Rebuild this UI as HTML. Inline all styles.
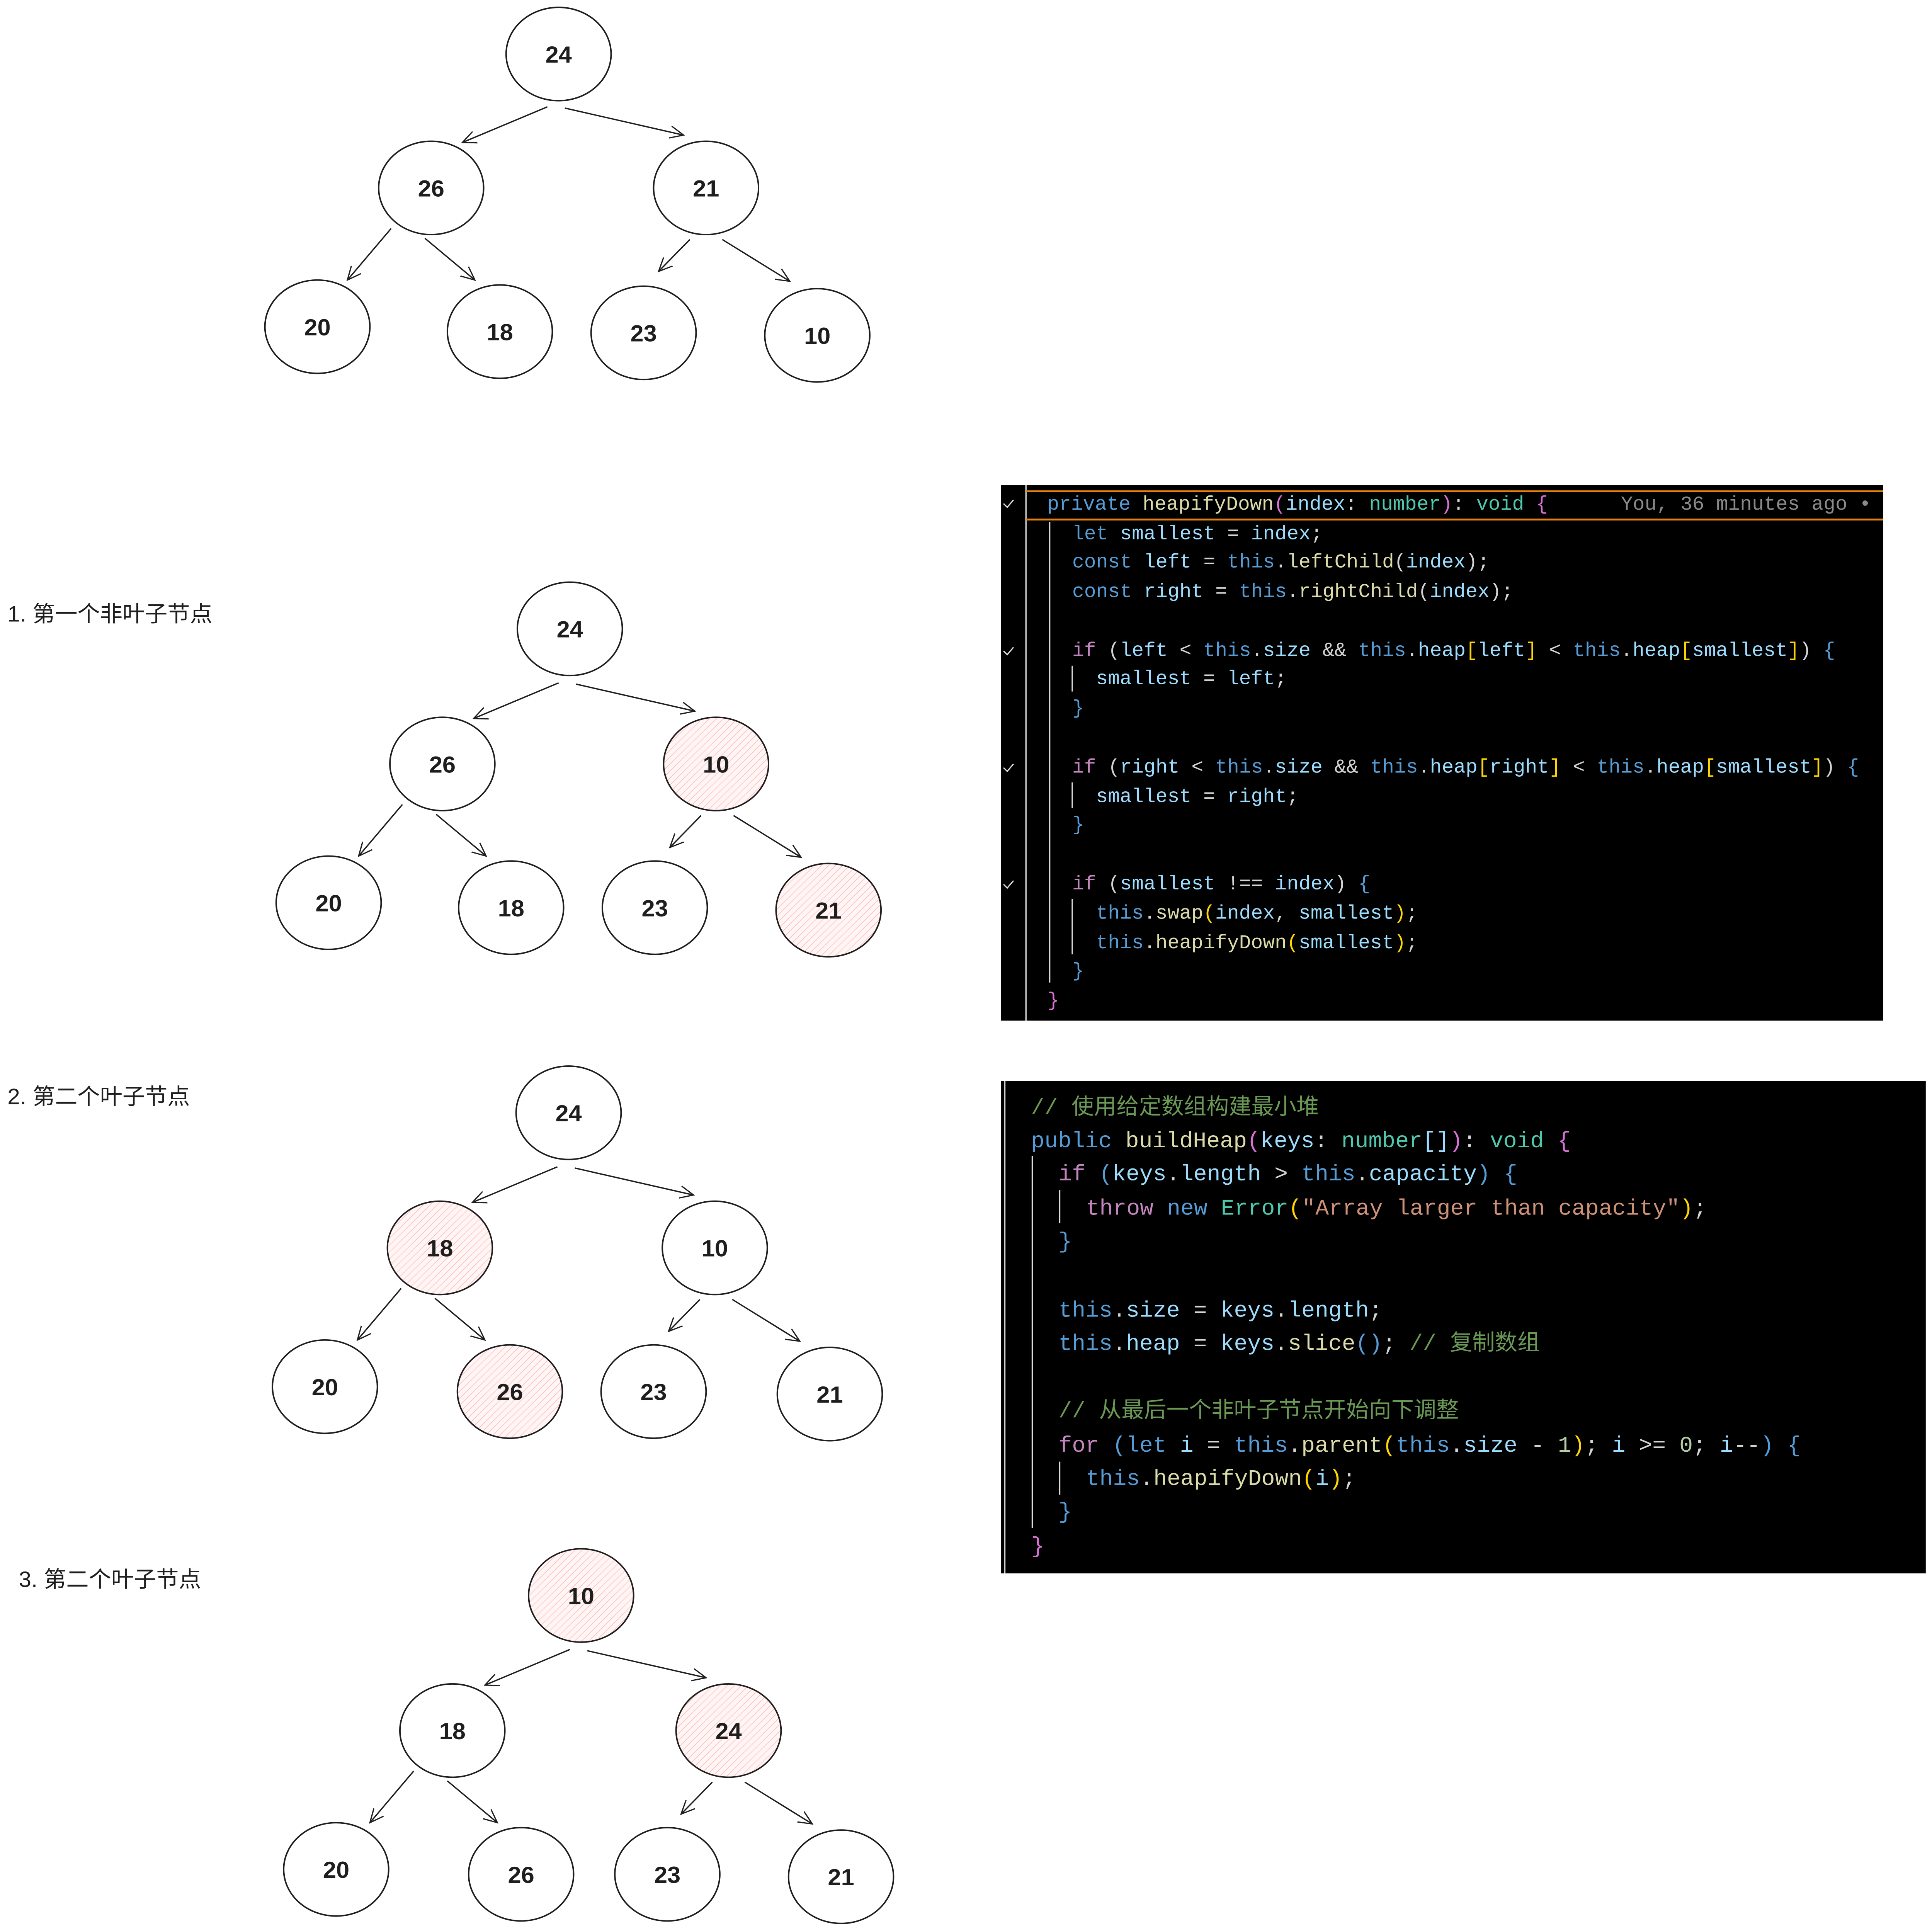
<!DOCTYPE html>
<html><head><meta charset="utf-8">
<style>
html,body{margin:0;padding:0;background:#fff;overflow:hidden;}
svg{display:block;width:100vw;height:100vh;}
.n{font-family:"Liberation Sans",sans-serif;font-size:19px;fill:#1e1e1e;text-anchor:middle;font-weight:bold;}
.lbl{font-family:"Liberation Sans","Noto Sans CJK SC",sans-serif;font-size:18px;fill:#1e1e1e;}
.c1{font-family:"Liberation Mono","Noto Sans CJK SC",monospace;font-size:15.9px;fill:#d4d4d4;}
.c2{font-family:"Liberation Mono","Noto Sans CJK SC",monospace;font-size:18px;fill:#d4d4d4;}
.k{fill:#569cd6}.f{fill:#dcdcaa}.v{fill:#9cdcfe}.t{fill:#4ec9b0}.p{fill:#da70d6}.i{fill:#c586c0}.s{fill:#ce9178}.cm{fill:#6a9955}.y{fill:#ffd700}.g{fill:#8a8a8a}.nm{fill:#b5cea8}
.e{stroke:#1e1e1e;stroke-width:1.2;fill:#fff}
.ar{stroke:#1e1e1e;stroke-width:1.1;fill:none}
</style></head><body>
<svg viewBox="0 0 1546 1573" preserveAspectRatio="none" xmlns="http://www.w3.org/2000/svg" xml:space="preserve">
<defs>
<pattern id="h" width="4" height="4" patternUnits="userSpaceOnUse" patternTransform="rotate(45)">
<rect width="4" height="4" fill="#fff5f5"/><line x1="0" y1="0" x2="0" y2="4" stroke="#ffb3b3" stroke-width="0.8"/>
</pattern>
<marker id="a" viewBox="0 0 12 12" refX="11" refY="6" markerWidth="12" markerHeight="12" markerUnits="userSpaceOnUse" orient="auto">
<path d="M0,1 L11,6 L0,11" fill="none" stroke="#1e1e1e" stroke-width="1"/>
</marker>
</defs>

<g>
<ellipse class="e" cx="447" cy="44" rx="42" ry="38"/>
<ellipse class="e" cx="345" cy="153" rx="42" ry="38"/>
<ellipse class="e" cx="565" cy="153" rx="42" ry="38"/>
<ellipse class="e" cx="254" cy="266" rx="42" ry="38"/>
<ellipse class="e" cx="400" cy="270" rx="42" ry="38"/>
<ellipse class="e" cx="515" cy="271" rx="42" ry="38"/>
<ellipse class="e" cx="654" cy="273" rx="42" ry="38"/>
<g class="ar" marker-end="url(#a)">
<line x1="438" y1="87" x2="370" y2="116"/><line x1="452" y1="88" x2="547" y2="110"/>
<line x1="313" y1="186" x2="278" y2="228"/><line x1="340" y1="194" x2="380" y2="228"/>
<line x1="552" y1="195" x2="527" y2="221"/><line x1="578" y1="195" x2="632" y2="229"/>
</g>
<text x="447" y="51" class="n">24</text><text x="345" y="160" class="n">26</text><text x="565" y="160" class="n">21</text>
<text x="254" y="273" class="n">20</text><text x="400" y="277" class="n">18</text><text x="515" y="278" class="n">23</text><text x="654" y="280" class="n">10</text>
</g>

<g transform="translate(2,2)">
<ellipse class="e" cx="454" cy="510" rx="42" ry="38"/>
<ellipse class="e" cx="352" cy="620" rx="42" ry="38"/>
<ellipse class="e" cx="571" cy="620" rx="42" ry="38" style="fill:url(#h)"/>
<ellipse class="e" cx="261" cy="733" rx="42" ry="38"/>
<ellipse class="e" cx="407" cy="737" rx="42" ry="38"/>
<ellipse class="e" cx="522" cy="737" rx="42" ry="38"/>
<ellipse class="e" cx="661" cy="739" rx="42" ry="38" style="fill:url(#h)"/>
<g class="ar" marker-end="url(#a)">
<line x1="445" y1="554" x2="377" y2="583"/><line x1="459" y1="555" x2="554" y2="577"/>
<line x1="320" y1="653" x2="285" y2="695"/><line x1="347" y1="661" x2="387" y2="695"/>
<line x1="559" y1="662" x2="534" y2="688"/><line x1="585" y1="662" x2="639" y2="696"/>
</g>
<text x="454" y="517" class="n">24</text><text x="352" y="627" class="n">26</text><text x="571" y="627" class="n">10</text>
<text x="261" y="740" class="n">20</text><text x="407" y="744" class="n">18</text><text x="522" y="744" class="n">23</text><text x="661" y="746" class="n">21</text>
</g>

<g transform="translate(3,4)">
<ellipse class="e" cx="452" cy="902" rx="42" ry="38"/>
<ellipse class="e" cx="349" cy="1012" rx="42" ry="38" style="fill:url(#h)"/>
<ellipse class="e" cx="569" cy="1012" rx="42" ry="38"/>
<ellipse class="e" cx="257" cy="1125" rx="42" ry="38"/>
<ellipse class="e" cx="405" cy="1129" rx="42" ry="38" style="fill:url(#h)"/>
<ellipse class="e" cx="520" cy="1129" rx="42" ry="38"/>
<ellipse class="e" cx="661" cy="1131" rx="42" ry="38"/>
<g class="ar" marker-end="url(#a)">
<line x1="443" y1="946" x2="375" y2="975"/><line x1="457" y1="947" x2="552" y2="969"/>
<line x1="318" y1="1045" x2="283" y2="1087"/><line x1="345" y1="1053" x2="385" y2="1087"/>
<line x1="557" y1="1054" x2="532" y2="1080"/><line x1="583" y1="1054" x2="637" y2="1088"/>
</g>
<text x="452" y="909" class="n">24</text><text x="349" y="1019" class="n">18</text><text x="569" y="1019" class="n">10</text>
<text x="257" y="1132" class="n">20</text><text x="405" y="1136" class="n">26</text><text x="520" y="1136" class="n">23</text><text x="661" y="1138" class="n">21</text>
</g>

<g transform="translate(3,5)">
<ellipse class="e" cx="462" cy="1294" rx="42" ry="38" style="fill:url(#h)"/>
<ellipse class="e" cx="359" cy="1404" rx="42" ry="38"/>
<ellipse class="e" cx="580" cy="1404" rx="42" ry="38" style="fill:url(#h)"/>
<ellipse class="e" cx="266" cy="1517" rx="42" ry="38"/>
<ellipse class="e" cx="414" cy="1521" rx="42" ry="38"/>
<ellipse class="e" cx="531" cy="1521" rx="42" ry="38"/>
<ellipse class="e" cx="670" cy="1523" rx="42" ry="38"/>
<g class="ar" marker-end="url(#a)">
<line x1="453" y1="1338" x2="385" y2="1367"/><line x1="467" y1="1339" x2="562" y2="1361"/>
<line x1="328" y1="1437" x2="293" y2="1479"/><line x1="355" y1="1445" x2="395" y2="1479"/>
<line x1="567" y1="1446" x2="542" y2="1472"/><line x1="593" y1="1446" x2="647" y2="1480"/>
</g>
<text x="462" y="1301" class="n">10</text><text x="359" y="1411" class="n">18</text><text x="580" y="1411" class="n">24</text>
<text x="266" y="1524" class="n">20</text><text x="414" y="1528" class="n">26</text><text x="531" y="1528" class="n">23</text><text x="670" y="1530" class="n">21</text>
</g>

<text class="lbl" x="6" y="506">1. 第一个非叶子节点</text>
<text class="lbl" x="6" y="899">2. 第二个叶子节点</text>
<text class="lbl" x="15" y="1292">3. 第二个叶子节点</text>

<rect x="801" y="395" width="706" height="436" fill="#000"/>
<line x1="821" y1="395" x2="821" y2="831" stroke="#bbb" stroke-width="1.2"/>
<line x1="821" y1="400" x2="1507" y2="400" stroke="#e8800e" stroke-width="1.5"/>
<line x1="821" y1="423" x2="1507" y2="423" stroke="#e8800e" stroke-width="1.5"/>
<g stroke="#ddd" stroke-width="1" fill="none">
<path d="M803,410 l3,3 l5,-6"/><path d="M803,530 l3,3 l5,-6"/><path d="M803,625 l3,3 l5,-6"/><path d="M803,720 l3,3 l5,-6"/>
<line x1="840" y1="425" x2="840" y2="800"/>
<line x1="858" y1="542" x2="858" y2="563"/><line x1="858" y1="637" x2="858" y2="658"/><line x1="858" y1="732" x2="858" y2="777"/>
</g>
<g class="c1">
<text x="838" y="415"><tspan class="k">private</tspan> <tspan class="f">heapifyDown</tspan><tspan class="p">(</tspan><tspan class="v">index</tspan>: <tspan class="t">number</tspan><tspan class="p">)</tspan>: <tspan class="t">void</tspan> <tspan class="p">{</tspan></text>
<text x="1297" y="415" class="g">You, 36 minutes ago •</text>
<text x="858" y="439"><tspan class="k">let</tspan> <tspan class="v">smallest</tspan> = <tspan class="v">index</tspan>;</text>
<text x="858" y="462"><tspan class="k">const</tspan> <tspan class="v">left</tspan> = <tspan class="k">this</tspan>.<tspan class="f">leftChild</tspan>(<tspan class="v">index</tspan>);</text>
<text x="858" y="486"><tspan class="k">const</tspan> <tspan class="v">right</tspan> = <tspan class="k">this</tspan>.<tspan class="f">rightChild</tspan>(<tspan class="v">index</tspan>);</text>
<text x="858" y="534"><tspan class="i">if</tspan> (<tspan class="v">left</tspan> &lt; <tspan class="k">this</tspan>.<tspan class="v">size</tspan> &amp;&amp; <tspan class="k">this</tspan>.<tspan class="v">heap</tspan><tspan class="y">[</tspan><tspan class="v">left</tspan><tspan class="y">]</tspan> &lt; <tspan class="k">this</tspan>.<tspan class="v">heap</tspan><tspan class="y">[</tspan><tspan class="v">smallest</tspan><tspan class="y">]</tspan>) <tspan class="k">{</tspan></text>
<text x="877" y="557"><tspan class="v">smallest</tspan> = <tspan class="v">left</tspan>;</text>
<text x="858" y="581" class="k">}</text>
<text x="858" y="629"><tspan class="i">if</tspan> (<tspan class="v">right</tspan> &lt; <tspan class="k">this</tspan>.<tspan class="v">size</tspan> &amp;&amp; <tspan class="k">this</tspan>.<tspan class="v">heap</tspan><tspan class="y">[</tspan><tspan class="v">right</tspan><tspan class="y">]</tspan> &lt; <tspan class="k">this</tspan>.<tspan class="v">heap</tspan><tspan class="y">[</tspan><tspan class="v">smallest</tspan><tspan class="y">]</tspan>) <tspan class="k">{</tspan></text>
<text x="877" y="653"><tspan class="v">smallest</tspan> = <tspan class="v">right</tspan>;</text>
<text x="858" y="676" class="k">}</text>
<text x="858" y="724"><tspan class="i">if</tspan> (<tspan class="v">smallest</tspan> !== <tspan class="v">index</tspan>) <tspan class="k">{</tspan></text>
<text x="877" y="748"><tspan class="k">this</tspan>.<tspan class="f">swap</tspan><tspan class="y">(</tspan><tspan class="v">index</tspan>, <tspan class="v">smallest</tspan><tspan class="y">)</tspan>;</text>
<text x="877" y="772"><tspan class="k">this</tspan>.<tspan class="f">heapifyDown</tspan><tspan class="y">(</tspan><tspan class="v">smallest</tspan><tspan class="y">)</tspan>;</text>
<text x="858" y="795" class="k">}</text>
<text x="838" y="819" class="p">}</text>
</g>

<rect x="801" y="880" width="740" height="401" fill="#000"/>
<line x1="804" y1="880" x2="804" y2="1281" stroke="#ccc" stroke-width="1.2"/>
<g transform="translate(0,3)">
<g stroke="#ddd" stroke-width="1" fill="none">
<line x1="826" y1="938" x2="826" y2="1241"/>
<line x1="848" y1="966" x2="848" y2="993"/><line x1="848" y1="1187" x2="848" y2="1214"/>
</g>
<g class="c2">
<text x="825" y="904" class="cm">// 使用给定数组构建最小堆</text>
<text x="825" y="931"><tspan class="k">public</tspan> <tspan class="f">buildHeap</tspan><tspan class="p">(</tspan><tspan class="v">keys</tspan>: <tspan class="t">number</tspan><tspan class="v">[]</tspan><tspan class="p">)</tspan>: <tspan class="t">void</tspan> <tspan class="p">{</tspan></text>
<text x="847" y="958"><tspan class="i">if</tspan> <tspan class="k">(</tspan><tspan class="v">keys</tspan>.<tspan class="v">length</tspan> &gt; <tspan class="k">this</tspan>.<tspan class="v">capacity</tspan><tspan class="k">) {</tspan></text>
<text x="869" y="986"><tspan class="i">throw</tspan> <tspan class="k">new</tspan> <tspan class="t">Error</tspan><tspan class="y">(</tspan><tspan class="s">"Array larger than capacity"</tspan><tspan class="y">)</tspan>;</text>
<text x="847" y="1013" class="k">}</text>
<text x="847" y="1069"><tspan class="k">this</tspan>.<tspan class="v">size</tspan> = <tspan class="v">keys</tspan>.<tspan class="v">length</tspan>;</text>
<text x="847" y="1096"><tspan class="k">this</tspan>.<tspan class="v">heap</tspan> = <tspan class="v">keys</tspan>.<tspan class="f">slice</tspan><tspan class="k">()</tspan>; <tspan class="cm">// 复制数组</tspan></text>
<text x="847" y="1151" class="cm">// 从最后一个非叶子节点开始向下调整</text>
<text x="847" y="1179"><tspan class="i">for</tspan> <tspan class="k">(let</tspan> <tspan class="v">i</tspan> = <tspan class="k">this</tspan>.<tspan class="f">parent</tspan><tspan class="y">(</tspan><tspan class="k">this</tspan>.<tspan class="v">size</tspan> - <tspan class="nm">1</tspan><tspan class="y">)</tspan>; <tspan class="v">i</tspan> &gt;= <tspan class="nm">0</tspan>; <tspan class="v">i</tspan>--<tspan class="k">) {</tspan></text>
<text x="869" y="1206"><tspan class="k">this</tspan>.<tspan class="f">heapifyDown</tspan><tspan class="y">(</tspan><tspan class="v">i</tspan><tspan class="y">)</tspan>;</text>
<text x="847" y="1233" class="k">}</text>
<text x="825" y="1261" class="p">}</text>
</g>
</g>
</svg>
</body></html>
